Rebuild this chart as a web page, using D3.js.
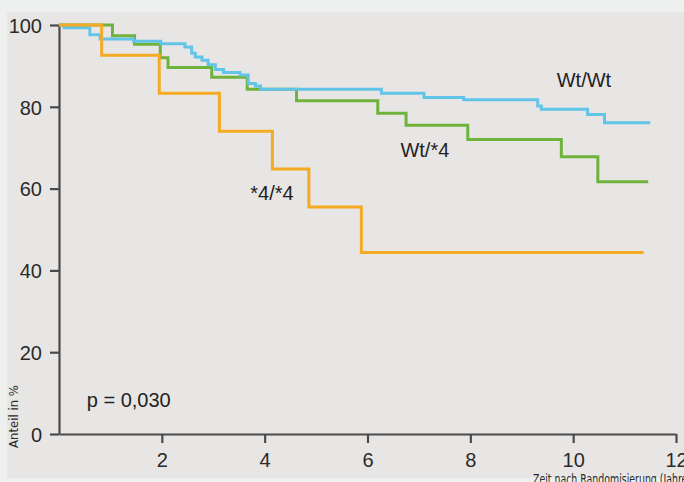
<!DOCTYPE html>
<html>
<head>
<meta charset="utf-8">
<script src="https://cdn.jsdelivr.net/npm/d3@7"></script>
<style>
  html, body { margin: 0; padding: 0; background: #eef0ef; }
  svg { display: block; }
</style>
</head>
<body>
<svg id="chart" width="684" height="482"></svg>
<script>
// ---- data ----
const xTicks = [2, 4, 6, 8, 10, 12];
const yTicks = [0, 20, 40, 60, 80, 100];

// Kaplan-Meier steps: [year, percent]; last point marks end of follow-up
const wtwt = [
  [0, 100], [0.10, 99.3], [0.60, 97.6], [0.80, 96.6], [1.45, 96.0], [1.98, 95.4],
  [2.45, 94.6], [2.58, 93.1], [2.65, 92.2], [2.78, 91.4], [2.90, 90.3], [3.04, 89.1],
  [3.20, 88.4], [3.52, 87.8], [3.68, 85.7], [3.82, 85.1], [3.92, 84.3], [6.27, 83.3],
  [7.10, 82.3], [7.87, 81.7], [9.31, 80.2], [9.38, 79.4], [10.28, 78.1], [10.61, 76.1],
  [11.50, 76.1]
];
const wt4 = [
  [0, 100], [1.04, 97.4], [1.47, 95.3], [1.97, 92.0], [2.12, 89.6], [2.97, 87.2],
  [3.66, 84.3], [4.62, 81.5], [6.20, 78.4], [6.75, 75.5], [7.95, 72.0], [9.77, 67.8],
  [10.48, 61.7], [11.46, 61.7]
];
const s44 = [
  [0, 100], [0.83, 92.6], [1.95, 83.3], [3.12, 74.0], [4.15, 64.8], [4.86, 55.5],
  [5.88, 44.4], [11.37, 44.4]
];
const seriesNames = ["Wt/*4", "Wt/Wt", "*4/*4"];
const pText = "p = 0,030";
const xTitle = "Zeit nach Randomisierung (Jahre)";
const yTitle = "Anteil in %";

// ---- drawing ----
const svg = d3.select("#chart");
svg.append("rect").attr("x", 7).attr("y", 12).attr("width", 677).attr("height", 466)
  .attr("fill", "#e8e6e4");

const x = d3.scaleLinear().domain([0, 12]).range([59, 676]);
const y = d3.scaleLinear().domain([0, 100]).range([434, 25]);

const font = "'Liberation Sans', Arial, Helvetica, sans-serif";
const narrow = "'Liberation Sans Narrow', 'DejaVu Sans Condensed', 'Liberation Sans', sans-serif";
const axisCol = "#4a4a4a";

// Axes
const yAxis = d3.axisLeft(y).tickValues(yTicks).tickSize(9).tickPadding(8).tickSizeOuter(0);
const gy = svg.append("g").attr("transform", `translate(${x(0)},0)`).call(yAxis);
const xAxis = d3.axisBottom(x).tickValues(xTicks).tickSize(9).tickPadding(6).tickSizeOuter(0);
const gx = svg.append("g").attr("transform", `translate(0,${y(0)})`).call(xAxis);

[gy, gx].forEach(g => {
  g.select(".domain").attr("stroke", axisCol).attr("stroke-width", 2.2);
  g.selectAll(".tick line").attr("stroke", axisCol).attr("stroke-width", 2.2);
  g.selectAll(".tick text").attr("fill", "#2a2a2a").style("font-family", font)
    .style("font-size", "20px");
});
gy.selectAll(".tick text").attr("dy", "0.36em");
gx.selectAll(".tick text").attr("dy", "0.9em");

// Lines
const line = d3.line().x(d => x(d[0])).y(d => y(d[1])).curve(d3.curveStepAfter);
const drawSeries = (data, color) => svg.append("path").datum(data)
  .attr("d", line).attr("fill", "none").attr("stroke", color)
  .attr("stroke-width", 3).attr("stroke-linejoin", "miter");
drawSeries(wt4, "#70b33c");
drawSeries(wtwt, "#62c4e6");
drawSeries(s44, "#f4aa22");

// Labels
const lab = (t, xv, yv, size) => svg.append("text").attr("x", xv).attr("y", yv).text(t)
  .attr("fill", "#222").style("font-family", font).style("font-size", size + "px");
lab(seriesNames[1], x(9.68), y(84.8), 20);
lab(seriesNames[0], x(6.64), y(67.8), 20);
lab(seriesNames[2], x(3.72), y(57.2), 20);
lab(pText, x(0.54), y(6.5), 20);

// Axis titles
svg.append("text").attr("transform", `translate(18,448) rotate(-90)`).text(yTitle)
  .attr("fill", "#2a2a2a").style("font-family", narrow).style("font-size", "13px");
svg.append("text").attr("x", 533).attr("y", 484).text(xTitle)
  .attr("textLength", 158).attr("lengthAdjust", "spacingAndGlyphs")
  .attr("fill", "#2a2a2a").style("font-family", narrow).style("font-size", "14px");
</script>
</body>
</html>
